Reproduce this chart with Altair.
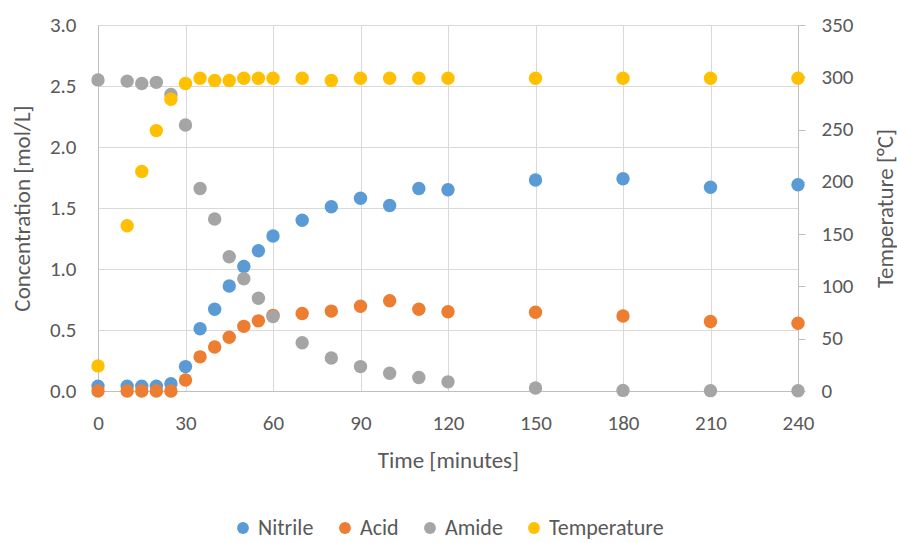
import altair as alt
import pandas as pd

time = [0, 10, 15, 20, 25, 30, 35, 40, 45, 50, 55, 60, 70, 80, 90, 100, 110, 120, 150, 180, 210, 240]
nitrile = [0.04, 0.04, 0.04, 0.04, 0.06, 0.20, 0.51, 0.67, 0.86, 1.02, 1.15, 1.27, 1.40, 1.51, 1.58, 1.52, 1.66, 1.65, 1.73, 1.74, 1.67, 1.69]
acid = [0.0, 0.0, 0.0, 0.0, 0.0, 0.09, 0.28, 0.36, 0.44, 0.53, 0.575, 0.62, 0.635, 0.655, 0.695, 0.74, 0.67, 0.65, 0.645, 0.615, 0.57, 0.555]
amide = [2.55, 2.54, 2.52, 2.53, 2.43, 2.18, 1.66, 1.41, 1.10, 0.92, 0.76, 0.61, 0.395, 0.27, 0.20, 0.145, 0.11, 0.075, 0.025, 0.005, 0.003, 0.002]
temperature = [24, 158, 210, 249, 279, 294, 299, 297, 297, 299, 299, 299, 299, 297, 299, 299, 299, 299, 299, 299, 299, 299]

series = ["Nitrile", "Acid", "Amide", "Temperature"]
colors = ["#5B9BD5", "#ED7D31", "#A5A5A5", "#FFC000"]

rows = []
for name, vals in [("Nitrile", nitrile), ("Acid", acid), ("Amide", amide)]:
    for t, v in zip(time, vals):
        rows.append({"time": t, "value": v, "series": name})
conc = pd.DataFrame(rows)
temp = pd.DataFrame({"time": time, "temp": temperature, "series": "Temperature"})

FONT = "Carlito, Lato, sans-serif"
TXT = "#595959"
LBL = 21
TTL = 23

color = alt.Color("series:N", scale=alt.Scale(domain=series, range=colors),
                  legend=alt.Legend(title=None, orient="none", direction="horizontal",
                                    legendX=134, legendY=492, symbolType="circle",
                                    symbolSize=140, labelFontSize=22, labelFont=FONT,
                                    labelColor=TXT, columnPadding=20, labelOffset=4,
                                    symbolStrokeWidth=0))

xenc = alt.X("time:Q", scale=alt.Scale(domain=[0, 240], nice=False),
             axis=alt.Axis(values=list(range(0, 241, 30)), title="Time [minutes]",
                           grid=True, gridColor="#d9d9d9", domainColor="#bfbfbf",
                           ticks=False, labelPadding=21, labelFontSize=LBL, labelFlush=False,
                           titleFontSize=TTL, titleFontWeight="normal",
                           titleY=69, titleBaseline="middle"))

left = alt.Chart(conc).mark_circle(size=180, opacity=1).encode(
    x=xenc,
    y=alt.Y("value:Q", scale=alt.Scale(domain=[0, 3], nice=False),
            axis=alt.Axis(values=[0, 0.5, 1, 1.5, 2, 2.5, 3], format=".1f",
                          title="Concentration [mol/L]", grid=True, gridColor="#d9d9d9",
                          domainColor="#bfbfbf", ticks=False, labelPadding=22,
                          labelFontSize=LBL, labelFlush=False, titleFontSize=TTL,
                          titleFontWeight="normal",
                          titleAngle=270, titleX=-76, titleY=183,
                          titleBaseline="middle", titleAlign="center")),
    color=color,
)

right = alt.Chart(temp).mark_circle(size=180, opacity=1).encode(
    x=alt.X("time:Q", scale=alt.Scale(domain=[0, 240], nice=False)),
    y=alt.Y("temp:Q", scale=alt.Scale(domain=[0, 350], nice=False),
            axis=alt.Axis(orient="right", values=list(range(0, 351, 50)),
                          title="Temperature [°C]", grid=False, domainColor="#bfbfbf",
                          tickColor="#bfbfbf", tickSize=7, labelPadding=16,
                          labelFontSize=LBL, labelFlush=False, titleFontSize=TTL,
                          titleFontWeight="normal",
                          titleAngle=270, titleX=87, titleY=183,
                          titleBaseline="middle", titleAlign="center")),
    color=color,
)

chart = alt.layer(left, right).resolve_scale(y="independent").properties(
    width=700, height=366,
    padding={"left": 98, "top": 25, "right": 99, "bottom": 152},
    autosize=alt.AutoSizeParams(type="none"),
    background="white",
).configure_view(strokeWidth=0).configure_axis(
    labelFont=FONT, titleFont=FONT, labelColor=TXT, titleColor=TXT
)

chart.save("out.html", embed_options={"renderer": "svg", "actions": False})
